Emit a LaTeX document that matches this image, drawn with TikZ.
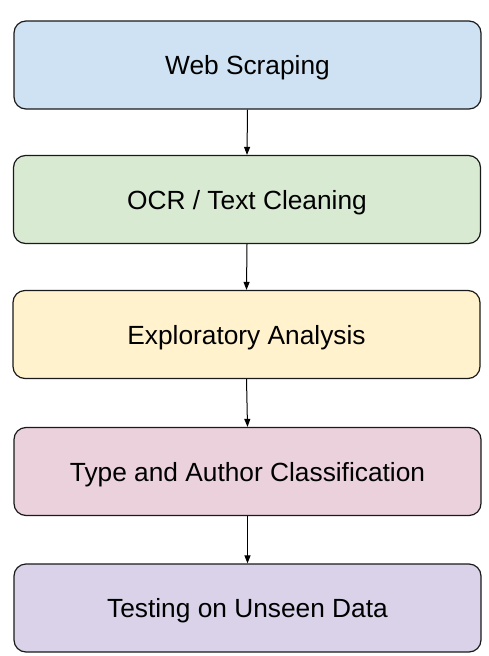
\documentclass[tikz,border=0pt]{standalone}
\usepackage{fontspec}
\setmainfont{Liberation Sans}
\usetikzlibrary{arrows.meta}
\definecolor{cblue}{HTML}{CFE2F3}
\definecolor{cgreen}{HTML}{D9EAD3}
\definecolor{cyellow}{HTML}{FFF2CC}
\definecolor{cpink}{HTML}{EAD1DC}
\definecolor{cpurple}{HTML}{D9D2E9}
\definecolor{cedge}{HTML}{1A1A1A}
\tikzset{
  stagebox/.style={draw=cedge, line width=1.2pt, rounded corners=12pt,
    minimum width=467pt, minimum height=88pt, inner sep=0pt,
    text height=19.5pt, text depth=0pt,
    font=\fontsize{26.3}{30}\selectfont, text=black},
  flowarrow/.style={draw=black, line width=1pt, -{Triangle[width=6pt,length=8pt]}}
}
\begin{document}
\begin{tikzpicture}[x=1pt,y=-1pt]
\useasboundingbox (0,0) rectangle (488,656);
\node[stagebox, fill=cblue]   (s1) at (247.5,65)   {Web Scraping};
\node[stagebox, fill=cgreen]  (s2) at (247,199.5)  {OCR / Text Cleaning};
\node[stagebox, fill=cyellow] (s3) at (246.5,334.5) {Exploratory Analysis};
\node[stagebox, fill=cpink]   (s4) at (247.5,471.5) {Type and Author Classification};
\node[stagebox, fill=cpurple] (s5) at (247.5,608)  {Testing on Unseen Data};
\draw[flowarrow] (s1.south) -- (s2.north);
\draw[flowarrow] (s2.south) -- (s3.north);
\draw[flowarrow] (s3.south) -- (s4.north);
\draw[flowarrow] (s4.south) -- (s5.north);
\end{tikzpicture}
\end{document}
